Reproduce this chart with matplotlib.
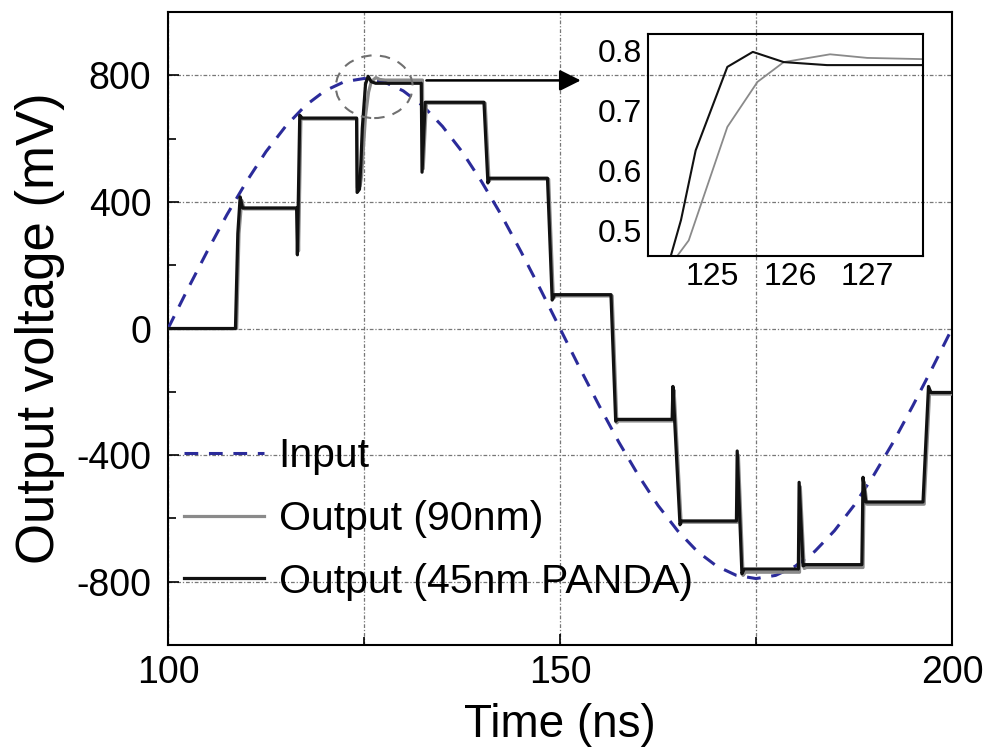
import numpy as np
import matplotlib.pyplot as plt
from matplotlib.patches import Ellipse

plt.rcParams['font.family'] = ['Liberation Sans', 'DejaVu Sans']
plt.rcParams['axes.unicode_minus'] = False

# input sine (mV), read every 2.5 ns
input_t = [100, 102.5, 105, 107.5, 110, 112.5, 115, 117.5, 120, 122.5, 125,
           127.5, 130, 132.5, 135, 137.5, 140, 142.5, 145, 147.5, 150,
           152.5, 155, 157.5, 160, 162.5, 165, 167.5, 170, 172.5, 175,
           177.5, 180, 182.5, 185, 187.5, 190, 192.5, 195, 197.5, 200]
input_mv = [0, 124, 244, 359, 464, 559, 639, 704, 751, 780, 790,
            780, 751, 704, 639, 559, 464, 359, 244, 124, 0,
            -124, -244, -359, -464, -559, -639, -704, -751, -780, -790,
            -780, -751, -704, -639, -559, -464, -359, -244, -124, 0]

# output of the 45nm PANDA circuit (breakpoints)
out45_t = [100, 108.6, 108.9, 109.2, 109.5, 116.4, 116.5, 116.8, 117.1,
           124.05, 124.12, 124.42, 124.59, 124.78, 125.19, 125.52, 125.92, 126.48,
           132.3, 132.4, 132.8, 140.3, 140.8, 141.0, 148.4, 149.0, 149.3,
           156.5, 157.1, 157.3, 164.3, 164.4, 165.3, 165.5, 172.5, 172.6, 173.2, 173.5,
           180.4, 180.5, 181.0, 181.3, 188.5, 188.65, 189.0, 196.3, 197.0, 197.3, 200]
out45_mv = [0, 0, 300, 416, 381, 381, 233, 674, 665,
            665, 430, 440, 517, 633, 772, 797, 780, 775,
            775, 494, 715, 715, 460, 475, 475, 90, 107,
            107, -293, -287, -287, -183, -620, -608, -608, -387, -775, -760,
            -760, -486, -750, -746, -746, -470, -548, -548, -183, -202, -202]

# output of the 90nm circuit (breakpoints)
out90_t = [100, 108.75, 109.05, 109.4, 109.7, 116.55, 116.65, 116.95, 117.25,
           124.08, 124.14, 124.5, 124.69, 125.19, 125.58, 125.92, 126.52, 127.0, 127.7,
           132.45, 132.55, 132.95, 140.45, 140.95, 141.15, 148.55, 149.15, 149.45,
           156.65, 157.25, 157.45, 164.45, 164.55, 165.45, 165.65, 172.65, 172.75, 173.35, 173.65,
           180.55, 180.65, 181.15, 181.45, 188.65, 188.8, 189.15, 196.45, 197.15, 197.45, 200]
out90_mv = [0, 0, 300, 405, 378, 378, 245, 668, 662,
            662, 445, 450, 483, 672, 747, 780, 793, 787, 785,
            785, 505, 712, 712, 465, 472, 472, 95, 103,
            103, -298, -292, -292, -195, -615, -612, -612, -400, -780, -770,
            -770, -500, -758, -755, -755, -485, -555, -555, -195, -207, -207]

x_ticks = [100, 150, 200]
y_ticks = [-800, -400, 0, 400, 800]
inset_xticks = [125, 126, 127]
inset_yticks = [0.5, 0.6, 0.7, 0.8]

fig = plt.figure(figsize=(9.89, 7.53), dpi=100)
ax = fig.add_axes([0.1699, 0.1434, 0.7927, 0.8406])

ax.plot(input_t, input_mv, color='#2b2b9a', lw=2.2, dashes=(4.5, 3.5), label='Input', zorder=3)
ax.plot(out90_t, out90_mv, color='#8a8a8a', lw=2.3, label='Output (90nm)', zorder=4)
ax.plot(out45_t, out45_mv, color='#111111', lw=2.3, label='Output (45nm PANDA)', zorder=5)

ax.set_xlim(100, 200)
ax.set_ylim(-1000, 1000)
ax.set_xticks(x_ticks)
ax.set_xticks([125, 175], minor=True)
ax.set_yticks(y_ticks)
ax.set_yticks([-600, -200, 200, 600], minor=True)
ax.tick_params(which='both', direction='in', top=False, right=False,
               labelsize=27, width=1.2)
ax.tick_params(which='major', length=8)
ax.tick_params(which='minor', length=6)
ax.tick_params(axis='x', which='major', pad=7)
ax.tick_params(axis='y', which='major', pad=12)
for s in ax.spines.values():
    s.set_linewidth(1.5)

grid_style = dict(color='#777777', lw=0.9, linestyle=(0, (3, 1.5, 1, 1.5)))
ax.grid(True, axis='y', which='major', **grid_style)
ax.grid(True, axis='x', which='both', **grid_style)

ax.set_xlabel('Time (ns)', fontsize=33, labelpad=9)
ax.set_ylabel('Output voltage (mV)', fontsize=38, labelpad=8)

# zoom marker + arrow
ax.add_patch(Ellipse((126.3, 764), 9.8, 198, fill=False, edgecolor='#707070',
                     lw=1.5, linestyle=(0, (5, 4)), zorder=6))
ax.annotate('', xy=(153.0, 784), xytext=(132.6, 784),
            arrowprops=dict(arrowstyle='-|>', color='black', lw=1.8,
                            mutation_scale=32), zorder=6)

ax.legend(loc='upper left', bbox_to_anchor=(0.0, 0.354), frameon=False,
          fontsize=29.5, handlelength=1.95, handletextpad=0.35,
          labelspacing=0.6, borderaxespad=0, borderpad=0.4)

# inset
axin = fig.add_axes([0.655, 0.66, 0.278, 0.295])
axin.patch.set_alpha(0)
axin.plot(out90_t, np.array(out90_mv) / 1000, color='#8a8a8a', lw=1.3)
axin.plot(out45_t, np.array(out45_mv) / 1000, color='#111111', lw=1.5)
axin.set_xlim(124.16, 127.72)
axin.set_ylim(0.457, 0.827)
axin.set_xticks(inset_xticks)
axin.set_yticks(inset_yticks)
axin.tick_params(direction='in', length=0, labelsize=23, pad=4)
for s in axin.spines.values():
    s.set_linewidth(1.5)

fig.savefig('out.png', dpi=100)
